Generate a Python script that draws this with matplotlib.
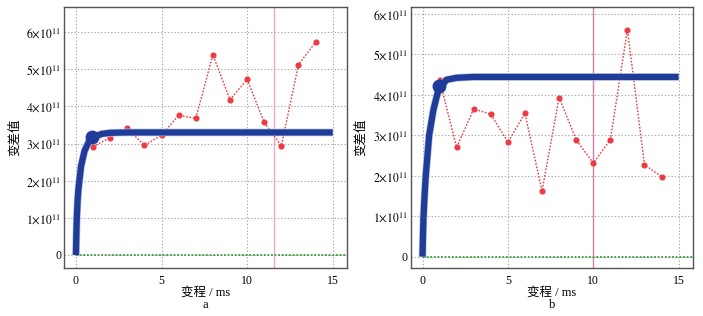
import numpy as np
import matplotlib
matplotlib.use('Agg')
import matplotlib.pyplot as plt
import matplotlib.patheffects as pe

plt.rcParams['font.family'] = ['Liberation Serif', 'Noto Sans CJK SC']
plt.rcParams['mathtext.fontset'] = 'stix'

# experimental variogram (red points)
lags = [1, 2, 3, 4, 5, 6, 7, 8, 9, 10, 11, 12, 13, 14]
exp_a = [2.92, 3.16, 3.41, 2.95, 3.23, 3.76, 3.68, 5.39, 4.18, 4.73, 3.57, 2.94, 5.13, 5.73]
exp_b = [4.37, 2.70, 3.65, 3.52, 2.83, 3.54, 1.62, 3.93, 2.89, 2.31, 2.89, 5.61, 2.27, 1.98]

# fitted model curve (blue)
fit_x_a = [0, 0.02, 0.05, 0.1, 0.15, 0.3, 0.5, 0.75, 1.0, 1.5, 2.0, 3.0, 15]
fit_y_a = [0, 0.5, 1.0, 1.5, 1.8, 2.4, 2.8, 3.05, 3.17, 3.26, 3.29, 3.30, 3.30]
fit_x_b = [0, 0.02, 0.06, 0.12, 0.19, 0.39, 0.64, 0.93, 1.4, 2.0, 3.0, 15]
fit_y_b = [0, 0.4, 1.0, 1.5, 2.0, 3.0, 3.63, 4.12, 4.37, 4.42, 4.44, 4.44]

# big marker on the curve
mark_a = (0.92, 3.17)
mark_b = (0.99, 4.22)

# vertical range line
vline_a = 11.54
vline_b = 10.0

ylim_a = (-0.35, 6.68)
ylim_b = (-0.28, 6.17)

fig = plt.figure(figsize=(7.03, 3.16), dpi=100)
ax1 = fig.add_axes([0.091, 0.152, 0.403, 0.826])
ax2 = fig.add_axes([0.584, 0.152, 0.402, 0.826])

panels = [
    (ax1, exp_a, fit_x_a, fit_y_a, mark_a, vline_a, ylim_a, 'a', '#f0a8c8'),
    (ax2, exp_b, fit_x_b, fit_y_b, mark_b, vline_b, ylim_b, 'b', '#d880b0'),
]

for ax, ev, fx, fy, mk, vl, yl, lab, vcol in panels:
    ax.set_xlim(-0.7, 15.85)
    ax.set_ylim(*yl)
    ax.grid(True, color='#a8a8a8', linestyle=(0, (1.2, 1.8)), linewidth=0.8)
    ax.set_axisbelow(True)
    ax.axvline(vl, color=vcol, linewidth=1.0, zorder=2)
    ax.plot([0, 15.85], [0, 0], color='#3a9a3a', linestyle=(0, (1, 1)), linewidth=1.3, zorder=2)
    ax.plot(lags, ev, color='#ec3a42', linestyle=(0, (1.2, 1.2)), linewidth=1.0,
            marker='o', markersize=3.4, zorder=3)
    ax.plot(fx, fy, color='#1f3c99', linewidth=4.5, solid_capstyle='butt', zorder=4,
            path_effects=[pe.Stroke(linewidth=5.5, foreground='#b8c4e8'), pe.Normal()])
    ax.plot([mk[0]], [mk[1]], 'o', color='#1f3c99', markersize=9, zorder=5)
    ax.set_xticks([0, 5, 10, 15])
    ax.set_yticks([0, 1, 2, 3, 4, 5, 6])
    ax.set_yticklabels(['0'] + [r'$%d{\times}10^{11}$' % i for i in range(1, 7)])
    ax.tick_params(length=0, labelsize=8.5)
    ax.tick_params(axis='y', pad=2)
    ax.tick_params(axis='x', pad=5)
    for s in ax.spines.values():
        s.set_color('#555555')
        s.set_linewidth(1.0)
    ax.set_xlabel('变程 / ms', fontsize=9, labelpad=0)
    ax.set_ylabel('变差值', fontsize=9, labelpad=4)
    ax.text(0.5, -0.142, lab, transform=ax.transAxes, ha='center', va='center', fontsize=9)

fig.savefig('out.png', dpi=100)
